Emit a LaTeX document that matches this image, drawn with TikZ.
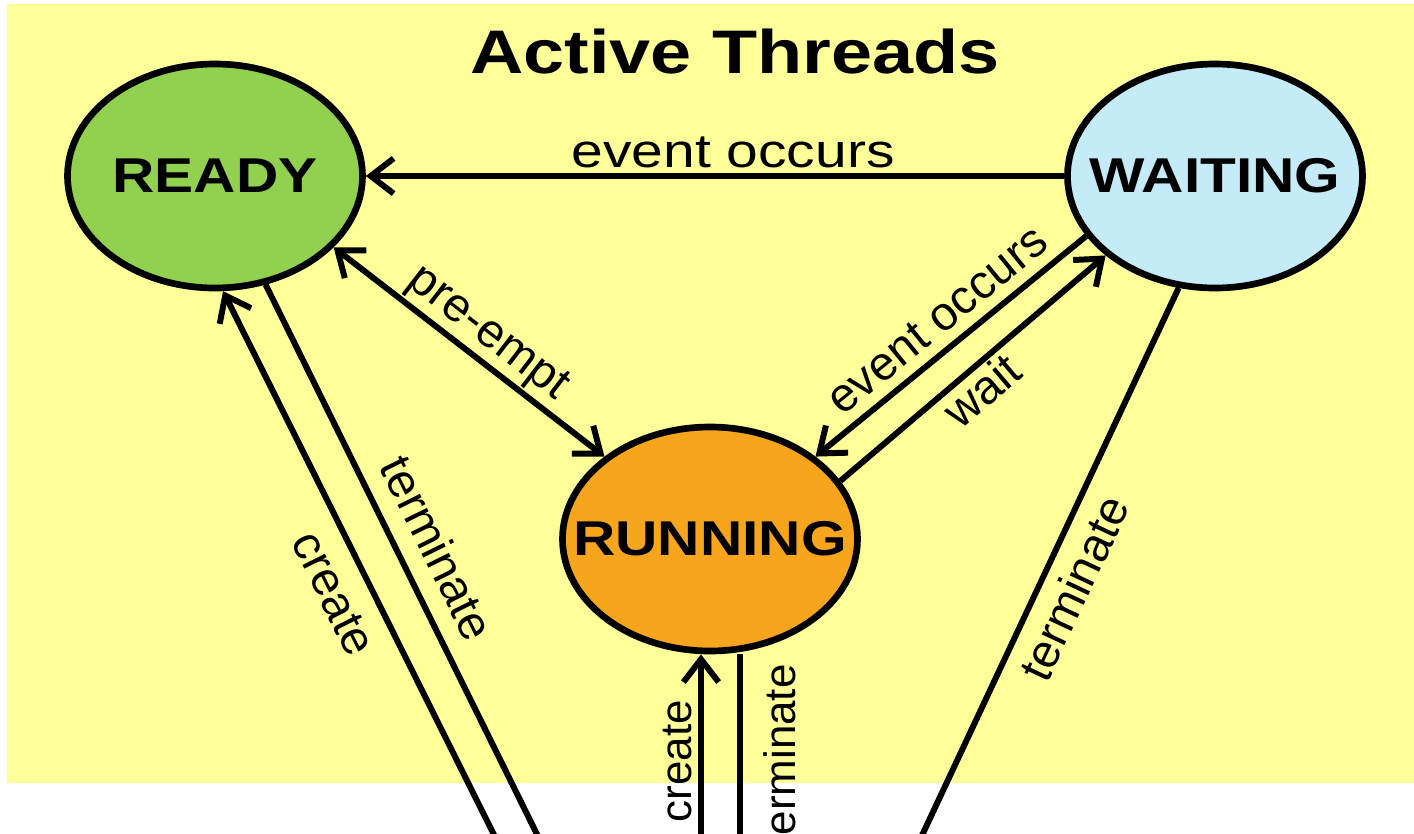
\documentclass[tikz,border=0pt]{standalone}
\usepackage{fontspec}
\setmainfont{Liberation Sans}
\usetikzlibrary{shapes,arrows.meta,positioning}

\definecolor{bgyellow}{HTML}{FFFF99}
\definecolor{readygreen}{HTML}{92D050}
\definecolor{waitblue}{HTML}{C6EBF8}
\definecolor{runorange}{HTML}{F7A51D}

\newcommand{\wide}[1]{\scalebox{1.2}[1]{#1}}

\begin{document}
\begin{tikzpicture}[>={Straight Barb[length=6.5pt,width=10pt]},
  state/.style={draw, ellipse, line width=1.9pt, minimum width=2.95cm, minimum height=2.24cm, inner sep=0pt, font=\fontsize{13.9}{16}\selectfont\bfseries},
  trans/.style={line width=1.7pt},
  lbl/.style={font=\fontsize{13.5}{15}\selectfont, sloped},
  vlbl/.style={font=\fontsize{12.5}{14}\selectfont, rotate=90}]
  \useasboundingbox (0,0) rectangle (14.14,8.33);
  \clip (0,0) rectangle (14.14,8.33);

  % Background
  \fill[bgyellow] (0.07,0.50) rectangle (14.14,8.29);

  % Title
  \node[font=\fontsize{17.5}{20}\selectfont\bfseries] (title) at (7.35,7.81) {\wide{Active Threads}};

  % States
  \node[state, fill=readygreen] (ready) at (2.15,6.57) {\makebox[0pt]{\wide{READY}}};
  \node[state, fill=waitblue] (waiting) at (12.15,6.57) {\makebox[0pt]{\wide{WAITING}}};
  \node[state, fill=runorange] (running) at (7.10,2.94) {\makebox[0pt]{\wide{RUNNING}}};

  % Ends below the picture
  \coordinate (newready) at (5.23,-0.60);
  \coordinate (endready) at (5.66,-0.60);
  \coordinate (newrun) at (7.01,-0.60);
  \coordinate (endrun) at (7.40,-0.60);
  \coordinate (endwait) at (8.95,-0.60);

  % Transitions
  \draw[trans, ->] (waiting) -- node[lbl, above, pos=0.474, inner sep=1.5pt] {\wide{event occurs}} (ready);
  \draw[trans, <->] (ready.-31) -- node[lbl, above, pos=0.51, inner sep=0.5pt] {pre-empt} (running.142);
  \draw[trans, ->] (waiting.205) -- node[lbl, above, pos=0.483, inner sep=3pt] {event occurs} (running.38);
  \draw[trans, ->] (running.24) -- node[lbl, below, pos=0.478, inner sep=0.5pt] {wait} (waiting.216);

  % Create / terminate
  \draw[trans, ->] (newready) -- node[lbl, below, pos=0.524, inner sep=5pt] {create} (ready.-86);
  \draw[trans, ->] (ready.-65) -- node[lbl, above, pos=0.46, inner sep=5pt] {terminate} (endready);
  \draw[trans, ->] (newrun) -- node[vlbl, above, pos=0.553, inner sep=1.7pt] {create} (newrun |- running.south);
  \draw[trans, ->] (endrun |- running.south) -- node[vlbl, below, pos=0.426, inner sep=6pt] {terminate} (endrun);
  \draw[trans, ->] (waiting.252) -- node[lbl, below, pos=0.473, inner sep=3.4pt] {terminate} (endwait);
\end{tikzpicture}
\end{document}
